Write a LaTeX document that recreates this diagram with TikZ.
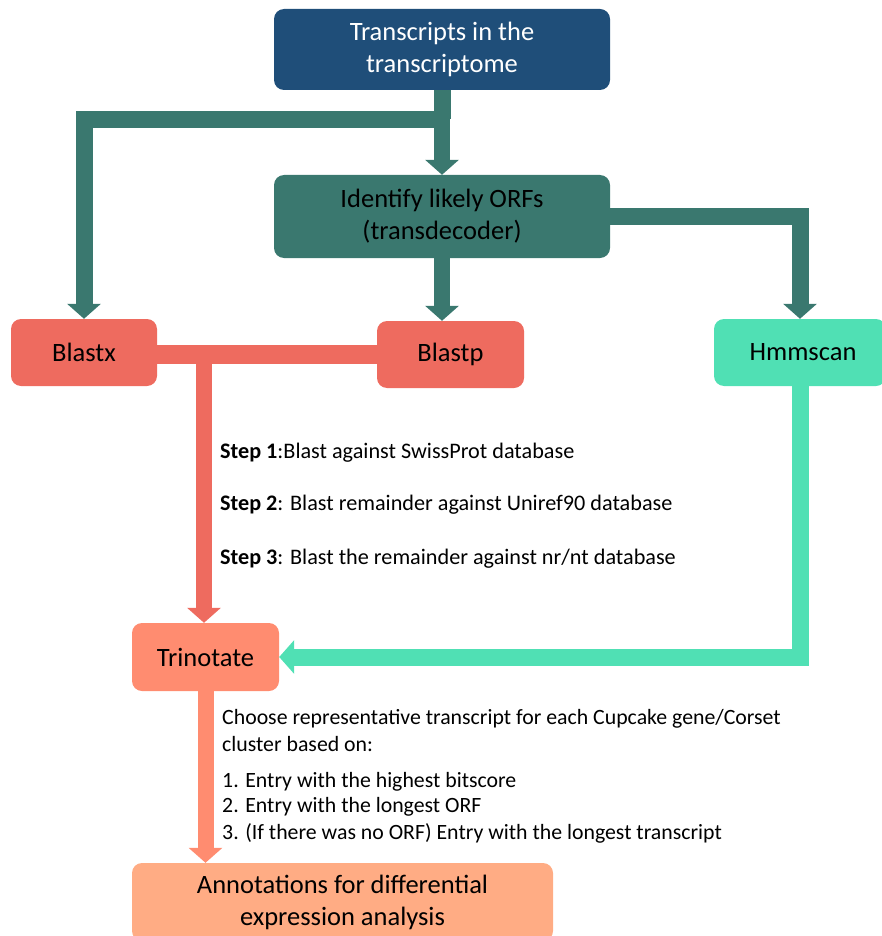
\documentclass[tikz,border=0pt]{standalone}
\usepackage{fontspec}
\setmainfont{Carlito}
\usetikzlibrary{arrows.meta}
\definecolor{cblue}{HTML}{1F4E79}
\definecolor{cteal}{HTML}{3A786F}
\definecolor{csalmon}{HTML}{EE6B5F}
\definecolor{caqua}{HTML}{50E0B4}
\definecolor{ctrin}{HTML}{FF8C70}
\definecolor{cann}{HTML}{FFAC84}
\tikzset{
  box/.style={rounded corners=10pt, inner sep=0pt, align=center, font=\fontsize{26.5}{32}\selectfont, text=black},
  conn/.style={line join=miter, line cap=butt},
  tip/.style={-{Triangle[width=33pt,length=15pt]}},
  lbl/.style={anchor=base west, inner sep=0pt, font=\fontsize{22.2}{27}\selectfont},
  lst/.style={anchor=base west, inner sep=0pt, font=\fontsize{21.8}{27}\selectfont},
}
\begin{document}
\begin{tikzpicture}[x=1pt,y=-1pt]
\useasboundingbox (0,0) rectangle (882,936);
\clip (0,0) rectangle (882,936);
% boxes
\node[box, fill=cblue, text=white, minimum width=336pt, minimum height=81pt] (top) at (442,49.5) {\rule{0pt}{6pt}Transcripts in the\\transcriptome};
\node[box, fill=cteal, minimum width=336pt, minimum height=83pt] (orf) at (442,216.5) {Identify likely ORFs\\(transdecoder)};
\node[box, fill=csalmon, minimum width=146pt, minimum height=67pt] (blastx) at (84,352.5) {Blastx};
\node[box, fill=csalmon, minimum width=147pt, minimum height=67pt] (blastp) at (450.5,354.5) {Blastp};
\node[box, fill=caqua, minimum width=172pt, minimum height=67pt] (hmm) at (800,352.5) {\hspace*{6pt}Hmmscan};
\node[box, fill=ctrin, minimum width=147pt, minimum height=68pt] (trin) at (205.5,657) {Trinotate};
\node[box, fill=cann, minimum width=421pt, minimum height=78pt] (ann) at (342.5,902) {Annotations for differential\\expression analysis};
% junctions
\coordinate (j1) at (442,119.5);
\coordinate (j2) at (204,354.5);
% teal connectors
\draw[conn, cteal, line width=17pt] (top.south) -- (j1);
\draw[conn, tip, cteal, line width=17pt] (j1) -| (blastx.north);
\draw[conn, tip, cteal, line width=16pt] (j1) -- (orf.north);
\draw[conn, tip, cteal, line width=16pt] (orf.south) -- (orf.south |- blastp.north);
\draw[conn, tip, cteal, line width=17pt] (orf.east) -| (hmm.north);
% salmon connectors
\draw[conn, csalmon, line width=19pt] (blastx.east |- j2) -- (blastp.west |- j2);
\draw[conn, tip, csalmon, line width=16pt] (j2) -- (j2 |- trin.north);
% aqua connector
\draw[conn, tip, caqua, line width=17pt] (hmm.south) |- (trin.east);
% trinotate to annotations
\draw[conn, tip, ctrin, line width=16pt] (trin.south) -- (trin.south |- ann.north);
% labels
\node[lbl] (s1) at (220,458) {\textbf{Step 1}:Blast against SwissProt database};
\node[lbl] (s2) at (220,510) {\textbf{Step 2}: Blast remainder against Uniref90 database};
\node[lbl] (s3) at (220,564) {\textbf{Step 3}: Blast the remainder against nr/nt database};
\node[lst] (c1) at (222,724) {Choose representative transcript for each Cupcake gene/Corset};
\node[lst] (c2) at (222,751) {cluster based on:};
\node[lst] (c3) at (222,787) {1. Entry with the highest bitscore};
\node[lst] (c4) at (222,812) {2. Entry with the longest ORF};
\node[lst] (c5) at (222,839) {3. (If there was no ORF) Entry with the longest transcript};
\end{tikzpicture}
\end{document}
